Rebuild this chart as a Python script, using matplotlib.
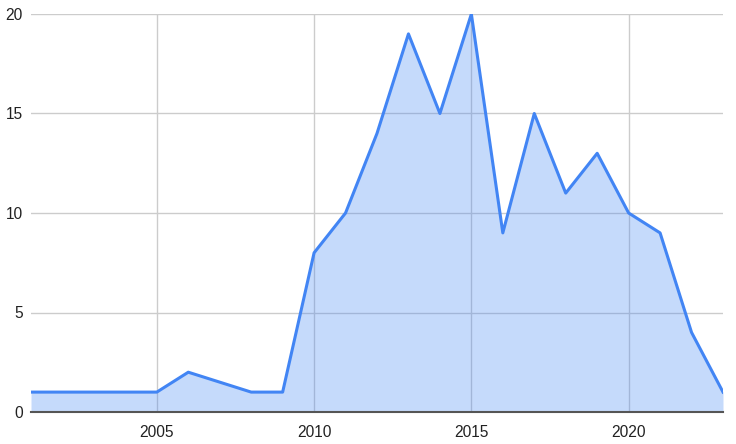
import matplotlib.pyplot as plt

years = [2001, 2002, 2003, 2004, 2005, 2006, 2008, 2009, 2010, 2011, 2012,
         2013, 2014, 2015, 2016, 2017, 2018, 2019, 2020, 2021, 2022, 2023]
counts = [1, 1, 1, 1, 1, 2, 1, 1, 8, 10, 14,
          19, 15, 20, 9, 15, 11, 13, 10, 9, 4, 1]
xticks = [2005, 2010, 2015, 2020]
yticks = [0, 5, 10, 15, 20]

plt.rcParams['font.family'] = ['Liberation Sans', 'DejaVu Sans']

fig = plt.figure(figsize=(7.36, 4.44), dpi=100)
ax = fig.add_axes([31 / 736, 32 / 444, 692 / 736, 398 / 444])

ax.fill_between(years, counts, 0, color='#4285f4', alpha=0.3, linewidth=0, zorder=2)
ax.plot(years, counts, color='#4285f4', linewidth=2.2, zorder=3)

ax.set_xlim(2001, 2023)
ax.set_ylim(0, 20)
ax.set_xticks(xticks)
ax.set_yticks(yticks)
ax.grid(True, color='#cccccc', linewidth=1, zorder=1)
ax.set_axisbelow(True)

for s in ['top', 'right', 'left']:
    ax.spines[s].set_visible(False)
ax.spines['bottom'].set_color('#555555')
ax.spines['bottom'].set_linewidth(1.5)
ax.spines['bottom'].set_zorder(4)

ax.tick_params(length=0, labelsize=11.2, colors='#222222', pad=9)
ax.tick_params(axis='y', pad=6)

fig.savefig('out.png', dpi=100)
